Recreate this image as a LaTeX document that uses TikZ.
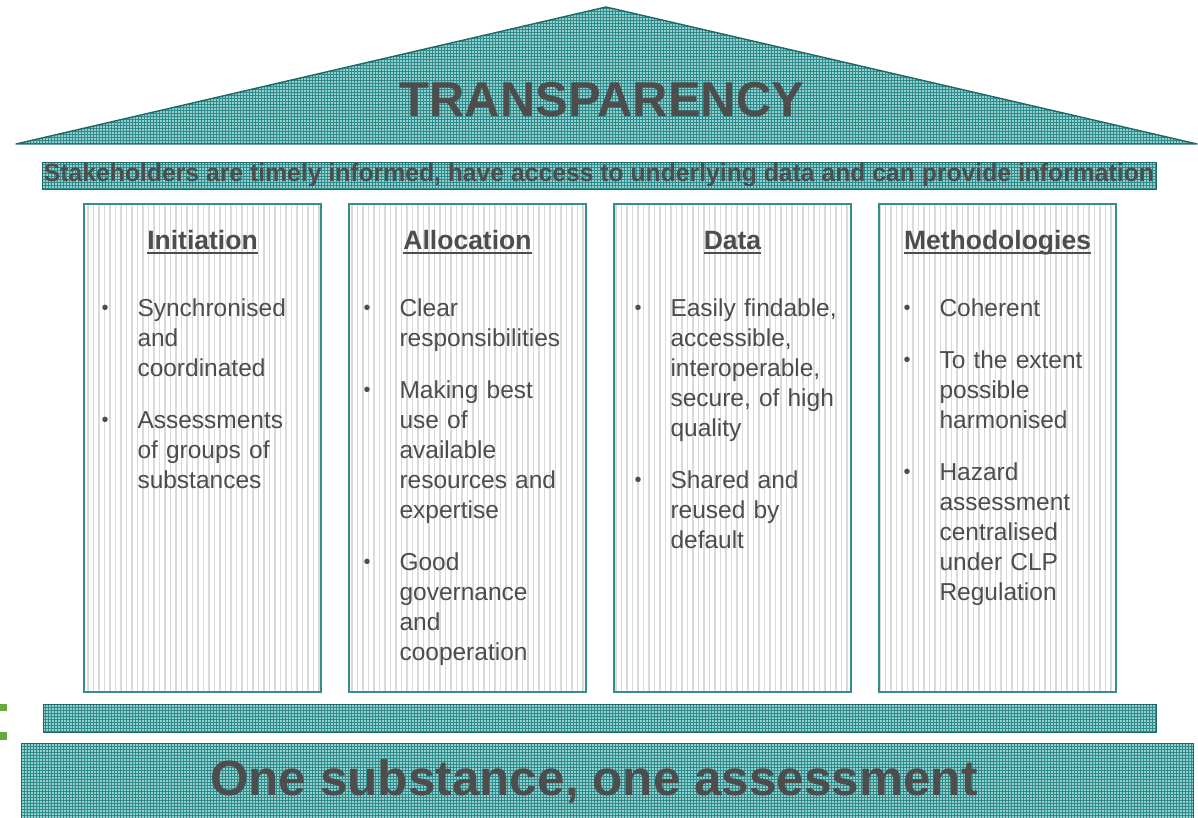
\documentclass[tikz,border=0pt]{standalone}
\usepackage{fontspec}
\setmainfont{Liberation Sans}
\usetikzlibrary{patterns, patterns.meta, positioning}
\definecolor{ink}{RGB}{77,77,77}
\definecolor{roofline}{RGB}{32,104,104}
\definecolor{rooffill}{RGB}{150,206,206}
\definecolor{roofgrid}{RGB}{45,140,140}
\definecolor{pillarline}{RGB}{52,140,140}
\definecolor{stripe}{RGB}{218,218,218}
\definecolor{leaf}{RGB}{100,170,60}
\newcommand{\pbullet}{\makebox[36pt][l]{\fontsize{20}{20}\selectfont\raisebox{2pt}{\textbullet}}}
\newcommand{\pitem}{\par\noindent\hangindent=36pt\hangafter=1\pbullet}
\newcommand{\heading}[1]{\setbox0\hbox{#1}\rlap{\rule[-4.5pt]{\wd0}{2pt}}\box0}

\begin{document}
\begin{tikzpicture}[x=1pt, y=-1pt, line width=1pt]
% Block styles
\tikzstyle{hatch}=[draw=roofline, line width=1.4pt, preaction={fill=rooffill}, pattern=grid, pattern color=roofgrid]
\tikzstyle{pillar}=[inner sep=0pt, outer sep=0pt, draw=pillarline, line width=1.6pt, preaction={fill=white}, pattern={Lines[angle=90, distance=5.5pt, line width=1.1pt]}, pattern color=stripe, minimum width=237pt, minimum height=488pt]
\tikzstyle{title}=[inner sep=0pt, text=ink, font=\fontsize{26.5}{30}\selectfont\bfseries, anchor=base]
\tikzstyle{body}=[inner sep=0pt, text=ink, anchor=north west, text width=215pt, font=\fontsize{24.5}{30}\selectfont\raggedright\setlength{\parskip}{22pt}\setlength{\parindent}{0pt}]
\useasboundingbox (0,0) rectangle (1198,818);
% Roof
\coordinate (rl) at (16,144);
\coordinate (rt) at (606,7);
\coordinate (rr) at (1197,144);
\draw[hatch, line join=round] (rl) -- (rt) -- (rr) -- cycle;
\node[inner sep=0pt, text=ink, font=\fontsize{49}{50}\selectfont\bfseries, anchor=base] (roof) at (602,117) {TRANSPARENCY};
% Banner
\node[hatch, inner sep=0pt, minimum width=1114pt, minimum height=27pt, anchor=north west] (band) at (42,162) {};
\node[inner sep=0pt, text=ink, font=\fontsize{25}{26}\selectfont\bfseries, anchor=base] (bandtxt) at (599,182) {\resizebox{1110pt}{\height}{Stakeholders are timely informed, have access to underlying data and can provide information}};
% Pillars
\node[pillar, anchor=north west] (P1) at (84,204) {};
\node[pillar, right=28pt of P1] (P2) {};
\node[pillar, right=28pt of P2] (P3) {};
\node[pillar, right=28pt of P3] (P4) {};
% Col 1
\node[title] (T1) at ([yshift=-45pt]P1.north) {\heading{Initiation}};
\node[body] (B1) at ([xshift=17pt, yshift=-60pt]P1.north west) {%
\pitem Synchronised\newline and\newline coordinated
\pitem Assessments\newline of groups of\newline substances\par};
% Col 2
\node[title] (T2) at ([yshift=-45pt]P2.north) {\heading{Allocation}};
\node[body] (B2) at ([xshift=14pt, yshift=-60pt]P2.north west) {%
\pitem Clear\newline responsibilities
\pitem Making best\newline use of\newline available\newline resources and\newline expertise
\pitem Good\newline governance\newline and\newline cooperation\par};
% Col 3
\node[title] (T3) at ([yshift=-45pt]P3.north) {\heading{Data}};
\node[body] (B3) at ([xshift=20pt, yshift=-60pt]P3.north west) {%
\pitem Easily findable,\newline accessible,\newline interoperable,\newline secure, of high\newline quality
\pitem Shared and\newline reused by\newline default\par};
% Col 4
\node[title] (T4) at ([yshift=-45pt]P4.north) {\heading{Methodologies}};
\node[body] (B4) at ([xshift=24pt, yshift=-60pt]P4.north west) {%
\pitem Coherent
\pitem To the extent\newline possible\newline harmonised
\pitem Hazard\newline assessment\newline centralised\newline under CLP\newline Regulation\par};
% Foundation
\node[hatch, inner sep=0pt, minimum width=1113pt, minimum height=28pt, anchor=north west] (base) at (43,704) {};
\node[hatch, inner sep=0pt, minimum width=1172pt, minimum height=90pt, anchor=north west] (slab) at (21,743) {};
\node[inner sep=0pt, text=ink, font=\fontsize{49.5}{50}\selectfont\bfseries, anchor=base] (slabtxt) at (594,795) {One substance, one assessment};
% Cut-off mark on the left
\fill[leaf] (0,704) rectangle (6.5,711);
\fill[leaf] (0,732) rectangle (6.5,740);
\end{tikzpicture}
\end{document}
